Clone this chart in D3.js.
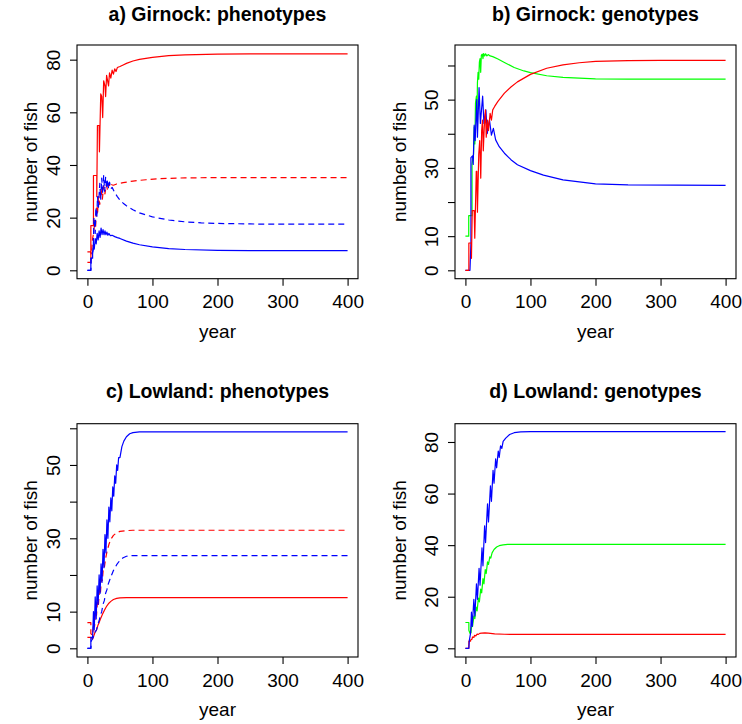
<!DOCTYPE html>
<html><head><meta charset="utf-8">
<script src="https://cdn.jsdelivr.net/npm/d3@7"></script>
<style>
body{margin:0;background:#fff}
svg{display:block}
text{font-family:"Liberation Sans",Arial,Helvetica,sans-serif;fill:#000}
</style>
</head><body>
<svg id="chart" width="742" height="724"></svg>
<script>
// ---------- data (year, number of fish) ----------
const titles = ["a) Girnock: phenotypes","b) Girnock: genotypes","c) Lowland: phenotypes","d) Lowland: genotypes"];
const xTickValues = [0,100,200,300,400];
const yTicksA = [0,20,40,60,80],  yLabelsA = [0,20,40,60,80];
const yTicksB = [0,10,20,30,40,50,60], yLabelsB = [0,10,30,50];
const yTicksC = [0,10,20,30,40,50,60], yLabelsC = [0,10,30,50];
const yTicksD = [0,20,40,60,80],  yLabelsD = [0,20,40,60,80];

// a) Girnock phenotypes
const aRedSolid = [[0,3],[5.3,3],[5.3,17],[9.3,17],[9.3,36],[14.4,36],[14.4,28],[15.4,55],[18,55],[18.5,45],[20.5,67],[22,66],[23.5,58],[25,72],[27,70],[28,66],[29.5,74],[31,72],[32.5,70],[34,75],[36,73],[38,76],[40,74.5],[42,76.5],[44,75.5],[46,77],[50,77.4],[55,78],[60,78.6],[70,79.5],[80,80.1],[100,80.9],[125,81.5],[150,81.8],[200,82.1],[250,82.2],[400,82.2]];
const aRedDashed = [[0,7],[5.3,7],[6,6],[8,12],[10,15],[11,19],[12.5,16],[14,24],[15.5,21],[17,28],[19,25],[21,31],[23,27],[25,32],[27,29],[29,32.5],[31,30.5],[33,33],[35,31.5],[37,32.5],[40,32.3],[45,32.8],[55,33.3],[70,33.9],[90,34.4],[110,34.8],[150,35.1],[200,35.2],[400,35.2]];
const aBlueSolid = [[0,0],[5.3,0],[5.3,4.6],[8,4.6],[8,6],[9.3,10],[10.5,8],[12,12],[13.5,10],[15,14],[16.5,11.5],[18,15],[19.5,12.5],[21,16],[22.5,13.5],[24,15.5],[25.5,13.5],[27,15],[28.5,13.5],[30,14.5],[31.5,13.3],[33,14],[35,13.2],[38,13.3],[42,12.8],[46,12.4],[50,12.1],[60,11.1],[70,10.3],[80,9.7],[100,8.9],[125,8.2],[150,7.9],[200,7.6],[250,7.5],[400,7.45]];
const aBlueDashed = [[0,0],[5.3,0],[6,5],[9,8],[10,20],[12,14],[13,24],[14.5,20],[15.5,28],[17,24],[19,33],[20.5,27],[22,35],[23.5,29],[25,36],[26.5,30],[28,35.5],[29.5,31],[31,34.5],[32.5,31],[34,33.5],[36,31],[38,31.5],[42,29.5],[46,28],[50,26.7],[55,25.5],[60,24.5],[70,23],[80,21.8],[100,20.3],[125,19.1],[150,18.4],[175,18],[200,17.8],[250,17.6],[300,17.5],[400,17.5]];

// b) Girnock genotypes
const bGreen = [[0,10],[5.1,10],[5.1,16],[10.2,16],[10.2,31],[11.7,33],[12.5,34],[13.5,42],[14.5,37],[15.5,49],[17,51],[17.8,45],[18.5,55],[19.5,58],[20.5,56],[21.5,61],[22.5,62],[23.5,58],[24.5,63],[26,63.3],[27,62],[28,63.5],[29.5,62.8],[31,63.4],[33,62.8],[35,63.2],[38,62.8],[42,62.6],[50,61.9],[60,60.9],[75,59.4],[90,58.4],[100,57.9],[125,57.0],[150,56.5],[200,56.1],[250,56.0],[400,56.0]];
const bBlue = [[0,0],[7,0],[8.5,8],[8.5,33],[11,33.5],[12,31],[13.5,42.5],[15,38],[17.5,50],[18.5,39],[21,53.5],[23,43],[26.5,51],[28.5,43],[31.5,47],[33.5,40],[37,44],[40,39.6],[43,41.6],[46.5,38.2],[52,36.2],[60,34.3],[70,32.4],[80,30.9],[100,29.2],[120,27.9],[150,26.5],[200,25.3],[250,25.0],[400,24.9]];
const bRed = [[0,0],[5.3,0],[5.3,8],[9.3,8],[9.3,3.5],[10.5,17.5],[13.5,17.5],[14.4,9.4],[16.7,29],[17.5,29],[18.5,17],[20.5,34],[22,38],[23.6,27],[25,41],[26.3,44],[27.5,35],[29,42],[30.8,47],[32,39],[34,44],[35.5,41],[38,46],[40,44],[42,47],[45,48],[50,49.5],[60,51.9],[70,53.7],[80,55.2],[100,57.4],[125,59.2],[150,60.2],[175,60.8],[200,61.2],[250,61.4],[300,61.5],[400,61.5]];

// c) Lowland phenotypes
const cBlueSolid = [[0,0],[5.3,0],[5.3,3],[8,3],[9.3,10],[10.5,5],[12,14],[13.5,8],[15,17],[16.5,12],[18,20],[19.5,15],[21,23],[22.5,18],[24,27],[25.5,22],[27,31],[28.5,26],[30,35],[31.5,30],[33,38.5],[34.5,34.5],[36,41],[37.5,37.5],[39,44],[40.5,41.5],[42,47],[43.5,45],[45,50],[46.5,48.5],[48,52],[50,52],[53,55],[56,56.5],[60,57.7],[65,58.5],[70,58.8],[80,59],[400,59]];
const cRedDashed = [[0,7],[5.3,7],[5.3,4],[8,3.5],[9.5,7],[11,6],[12.5,10],[14,9],[15.5,13],[17,12],[18.5,16],[20,15],[21.5,19],[23,18.5],[24.5,22],[26,22],[28,24.5],[30,26.3],[33,28.3],[36,29.7],[40,30.8],[45,31.5],[50,31.9],[60,32.1],[70,32.2],[400,32.2]];
const cBlueDashed = [[0,0],[5.3,0],[6,2],[9,3],[12,4.5],[14,5],[16,6.5],[18,7.5],[20,9],[22,10],[24,12],[26,13],[28,15],[30,16],[32,17.5],[34,18.5],[36,19.5],[40,21.2],[45,22.8],[50,24],[55,24.7],[60,25.1],[70,25.3],[400,25.3]];
const cRedSolid = [[0,3],[5.3,3],[8,2.5],[10,3.5],[12,4.5],[14,5],[16,6.2],[18,7],[20,8],[22,8.8],[24,9.6],[26,10.3],[28,11],[30,11.6],[33,12.3],[36,12.8],[40,13.3],[45,13.6],[50,13.75],[60,13.8],[400,13.8]];

// d) Lowland genotypes
const dGreen = [[0,10],[5.3,10],[5.3,7],[7,5.8],[8.5,6],[10,9.5],[11,8.5],[13,12.5],[14.5,11.5],[16.5,16],[18,14.5],[20,19.5],[21.5,18],[23.5,23],[25,21.5],[27,27],[28.5,25],[30.5,30.5],[32,29],[34,33.5],[35.5,32.5],[37.5,35.5],[39,35],[41,37],[44,38.3],[48,39.3],[52,39.8],[58,40.1],[65,40.3],[400,40.3]];
const dBlue = [[0,0],[5.3,0],[6,3],[8,6],[9.3,14],[10.5,8.5],[13,19],[14.5,12.5],[17,25],[18.5,19],[21,31],[22.5,24.5],[25.5,39],[27,32],[29.5,47.5],[31,41],[34,56],[35.5,49],[38.5,63],[40,57],[42.5,69],[44,64],[46.5,73.5],[48,70],[50.5,76.5],[52,74],[54,78.5],[56,77.5],[58,80.2],[62,81.5],[68,82.9],[75,83.6],[85,83.9],[100,84],[400,84]];
const dRed = [[0,0],[5.3,0],[5.3,2.8],[8,2.8],[8,3.2],[10,3.5],[11,4.4],[13,4.2],[14,5],[16,4.8],[18,5.5],[20,5.4],[22,5.8],[25,5.9],[30,6.0],[35,5.9],[45,5.6],[60,5.45],[80,5.4],[400,5.4]];

// ---------- layout ----------
const RED = "#FF0000", BLUE = "#0000FF", GREEN = "#00FF00";
const panels = [
  {title:titles[0], box:{l:77,r:358,t:45,b:278.7}, ydom:[-3.19,85.57], yt:yTicksA, yl:yLabelsA, ylabX:36.5, ytlX:60, titleY:21, xtlY:308.3, xlabY:338.3,
   series:[{d:aRedSolid,c:RED},{d:aRedDashed,c:RED,dash:true},{d:aBlueSolid,c:BLUE},{d:aBlueDashed,c:BLUE,dash:true}]},
  {title:titles[1], box:{l:455,r:736,t:45,b:278.7}, ydom:[-2.46,66.0], yt:yTicksB, yl:yLabelsB, ylabX:406, ytlX:437.7, titleY:21, xtlY:308.3, xlabY:338.3,
   series:[{d:bGreen,c:GREEN},{d:bBlue,c:BLUE},{d:bRed,c:RED}]},
  {title:titles[2], box:{l:77,r:358,t:423.7,b:657}, ydom:[-2.37,61.25], yt:yTicksC, yl:yLabelsC, ylabX:36.5, ytlX:60, titleY:397.7, xtlY:687, xlabY:716,
   series:[{d:cRedSolid,c:RED},{d:cRedDashed,c:RED,dash:true},{d:cBlueDashed,c:BLUE,dash:true},{d:cBlueSolid,c:BLUE}]},
  {title:titles[3], box:{l:455,r:736,t:423.7,b:657}, ydom:[-3.37,87.09], yt:yTicksD, yl:yLabelsD, ylabX:406, ytlX:437.7, titleY:397.7, xtlY:687, xlabY:716,
   series:[{d:dRed,c:RED},{d:dGreen,c:GREEN},{d:dBlue,c:BLUE}]}
];

const svg = d3.select("#chart");
svg.append("rect").attr("width",742).attr("height",724).attr("fill","#fff");

panels.forEach(p => {
  const B = p.box;
  const x = d3.scaleLinear().domain([-16,416]).range([B.l,B.r]);
  const y = d3.scaleLinear().domain(p.ydom).range([B.b,B.t]);
  const g = svg.append("g");

  const line = d3.line().x(d=>x(d[0])).y(d=>y(d[1]));
  p.series.forEach(s => {
    g.append("path").attr("d", line(s.d)).attr("fill","none")
      .attr("stroke", s.c).attr("stroke-width",1.2)
      .attr("stroke-linejoin","round")
      .attr("stroke-dasharray", s.dash ? "6,4" : null);
  });

  // box
  g.append("rect").attr("x",B.l).attr("y",B.t).attr("width",B.r-B.l).attr("height",B.b-B.t)
    .attr("fill","none").attr("stroke","#000").attr("stroke-width",1.1);

  // x axis
  const xa = g.append("g").attr("transform",`translate(0,${B.b})`)
    .call(d3.axisBottom(x).tickValues(xTickValues).tickSize(7).tickFormat(d3.format("d")));
  xa.select(".domain").remove();
  xa.selectAll(".tick line").attr("stroke","#000").attr("stroke-width",1.1);
  xa.selectAll(".tick text").attr("y", p.xtlY - B.b).attr("dy",0)
    .style("font-size","19px").style("font-family",'"Liberation Sans",Arial,sans-serif').attr("fill","#000");

  // y axis
  const ya = g.append("g").attr("transform",`translate(${B.l},0)`)
    .call(d3.axisLeft(y).tickValues(p.yt).tickSize(7)
      .tickFormat(v => p.yl.includes(v) ? d3.format("d")(v) : ""));
  ya.select(".domain").remove();
  ya.selectAll(".tick line").attr("stroke","#000").attr("stroke-width",1.1);
  ya.selectAll(".tick text").attr("x",0).attr("dy",0)
    .attr("transform",`translate(${p.ytlX - B.l},0) rotate(-90)`)
    .attr("text-anchor","middle")
    .style("font-size","19px").style("font-family",'"Liberation Sans",Arial,sans-serif').attr("fill","#000");

  // labels
  g.append("text").attr("x",(B.l+B.r)/2).attr("y",p.titleY).attr("text-anchor","middle")
    .style("font-size","19.5px").style("font-weight","bold").text(p.title);
  g.append("text").attr("x",(B.l+B.r)/2).attr("y",p.xlabY).attr("text-anchor","middle")
    .style("font-size","19px").text("year");
  g.append("text").attr("transform",`translate(${p.ylabX},${(B.t+B.b)/2}) rotate(-90)`)
    .attr("text-anchor","middle").style("font-size","19px").text("number of fish");
});
</script>
</body></html>
